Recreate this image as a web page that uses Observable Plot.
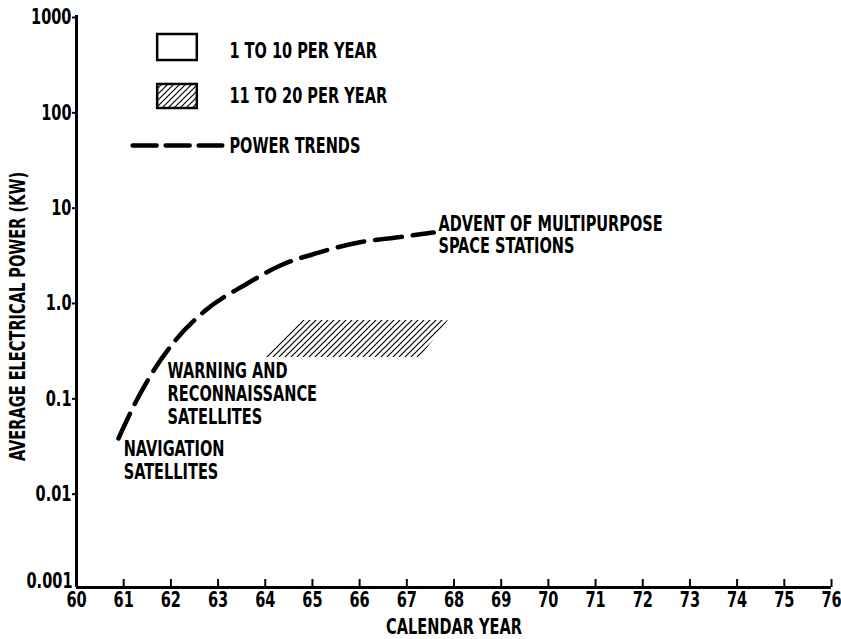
<!DOCTYPE html>
<html>
<head>
<meta charset="utf-8">
<script src="https://cdn.jsdelivr.net/npm/d3@7"></script>
<script src="https://cdn.jsdelivr.net/npm/@observablehq/plot@0.6"></script>
<style>
  html, body { margin: 0; padding: 0; background: #fff; }
  #chart svg { display: block; }
</style>
</head>
<body>
<div id="chart"></div>
<script>
// Power trend curve (calendar year, average electrical power in kW)
const trendYears = [60.89, 61.25, 61.57, 62.06, 62.73, 63.62, 64.32, 65.13, 65.98, 66.87, 67.57];
const trendKw    = [0.0366, 0.0871, 0.1675, 0.372, 0.804, 1.545, 2.385, 3.26, 4.16, 4.75, 5.30];

// Hatched region (11 to 20 per year): bottom and top edges
const hatchKw    = [0.259, 0.632];
const hatchStart = [64.0, 64.79];
const hatchEnd   = [67.29, 67.88];

// Axis ticks
const xTicks = [60, 61, 62, 63, 64, 65, 66, 67, 68, 69, 70, 71, 72, 73, 74, 75, 76];
const yTicks = [0.001, 0.01, 0.1, 1, 10, 100, 1000];
const yTickLabels = ["0.001", "0.01", "0.1", "1.0", "10", "100", "1000"];

// Annotations
const noteText = ["NAVIGATION\nSATELLITES", "WARNING AND\nRECONNAISSANCE\nSATELLITES", "ADVENT OF MULTIPURPOSE\nSPACE STATIONS"];
const noteYear = [61.0, 61.93, 67.67];
const noteKw   = [0.0139, 0.0525, 3.19];

// Legend
const legendText = ["1 TO 10 PER YEAR", "11 TO 20 PER YEAR", "POWER TRENDS"];
const legendTextYear = 63.24;
const legendTextKw = [362, 119.4, 36.5];
const legendBoxYear = [61.72, 62.56];
const legendBoxKw = [[337, 632], [105.8, 189]];
const legendLineYear = [61.19, 63.09];
const legendLineKw = 43.3;

const FONT = "'DejaVu Sans Condensed', 'DejaVu Sans', sans-serif";
const FS = 21;
const SQUEEZE = 0.77;

const trend = trendYears.map((x, i) => ({x, y: trendKw[i]}));
const hatch = hatchKw.map((y, i) => ({y, x1: hatchStart[i], x2: hatchEnd[i]}));
const notes = noteText.map((t, i) => ({t, x: noteYear[i], y: noteKw[i]}));
const legendItems = legendText.map((t, i) => ({t, x: legendTextYear, y: legendTextKw[i]}));
const legendBoxes = legendBoxKw.map((k, i) => ({x1: legendBoxYear[0], x2: legendBoxYear[1], y1: k[0], y2: k[1], fill: i === 0 ? "white" : "url(#hatch)"}));
const legendLine = legendLineYear.map(x => ({x, y: legendLineKw}));
const yLabel = d => yTickLabels[yTicks.indexOf(d)];

const defs = () => {
  const ns = "http://www.w3.org/2000/svg";
  const d = document.createElementNS(ns, "defs");
  const p = document.createElementNS(ns, "pattern");
  p.setAttribute("id", "hatch");
  p.setAttribute("patternUnits", "userSpaceOnUse");
  p.setAttribute("width", "6");
  p.setAttribute("height", "6");
  const path = document.createElementNS(ns, "path");
  path.setAttribute("d", "M0,6 L6,0 M-1.5,1.5 L1.5,-1.5 M4.5,7.5 L7.5,4.5");
  path.setAttribute("stroke", "black");
  path.setAttribute("stroke-width", "1.2");
  p.appendChild(path);
  d.appendChild(p);
  return d;
};

const chart = Plot.plot({
  width: 841,
  height: 639,
  marginLeft: 76,
  marginRight: 10,
  marginTop: 15,
  marginBottom: 52,
  style: {fontFamily: FONT, fontSize: FS + "px", fontWeight: "bold", color: "black", background: "white"},
  x: {domain: [60, 76]},
  y: {type: "log", domain: [0.001, 1000]},
  marks: [
    defs,
    Plot.areaX(hatch, {y: "y", x1: "x1", x2: "x2", fill: "url(#hatch)", curve: "linear"}),
    Plot.line(trend, {x: "x", y: "y", stroke: "black", strokeWidth: 4.5, strokeDasharray: "27,11", curve: "monotone-x"}),
    Plot.text(notes, {x: "x", y: "y", text: "t", textAnchor: "start", lineAnchor: "bottom", lineHeight: 1.08, fontSize: FS, fill: "black"}),
    Plot.rect(legendBoxes, {x1: "x1", x2: "x2", y1: "y1", y2: "y2", fill: "fill", stroke: "black", strokeWidth: 2.5}),
    Plot.line(legendLine, {x: "x", y: "y", stroke: "black", strokeWidth: 4.5, strokeDasharray: "24,9"}),
    Plot.text(legendItems, {x: "x", y: "y", text: "t", textAnchor: "start", lineAnchor: "bottom", fontSize: FS, fill: "black"}),
    Plot.tickX(xTicks, {x: d => d, insetTop: 564, stroke: "black", strokeWidth: 2}),
    Plot.ruleX([60], {stroke: "black", strokeWidth: 3}),
    Plot.ruleY([0.001], {stroke: "black", strokeWidth: 3}),
    Plot.axisX(xTicks, {tickSize: 0, tickPadding: 5, tickFormat: d => String(d), label: null, fontSize: FS}),
    Plot.axisY(yTicks.slice(1), {tickSize: 4, tickPadding: 1, tickFormat: yLabel, label: null, dy: 2, fontSize: FS, strokeWidth: 2}),
    Plot.axisY(yTicks.slice(0, 1), {tickSize: 0, tickPadding: 4, tickFormat: yLabel, label: null, dy: -6, fontSize: FS}),
    Plot.text(["CALENDAR YEAR"], {frameAnchor: "bottom", textAnchor: "middle", dy: 46, lineAnchor: "bottom", fontSize: FS, fill: "black"}),
    Plot.text(["AVERAGE ELECTRICAL POWER (KW)"], {frameAnchor: "left", textAnchor: "middle", dx: -58, dy: 15, rotate: -90, lineAnchor: "middle", fontSize: FS, fill: "black"})
  ]
});

// Condense the lettering horizontally, about each text's own anchor point
chart.querySelectorAll("text").forEach(t => {
  const tr = t.getAttribute("transform");
  if (tr) {
    t.setAttribute("transform", tr + ` scale(${SQUEEZE},1)`);
  } else {
    const x = +(t.getAttribute("x") || 0), y = +(t.getAttribute("y") || 0);
    t.removeAttribute("x"); t.removeAttribute("y");
    t.setAttribute("transform", `translate(${x},${y}) scale(${SQUEEZE},1)`);
  }
});

document.getElementById("chart").appendChild(chart);
</script>
</body>
</html>
